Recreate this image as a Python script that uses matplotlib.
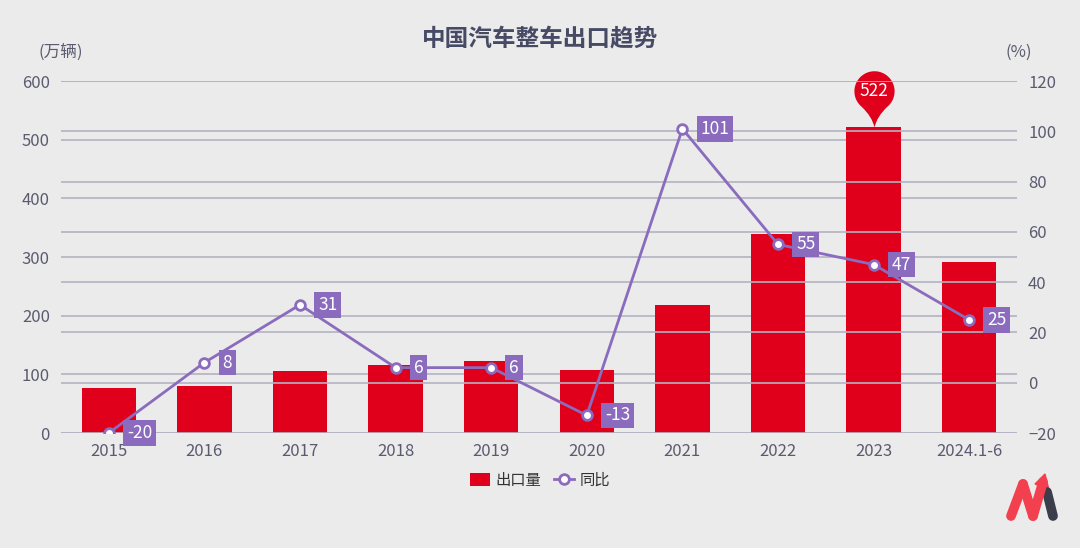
import matplotlib
matplotlib.use("Agg")
import matplotlib.pyplot as plt
import numpy as np
from matplotlib.path import Path
from matplotlib.lines import Line2D
from matplotlib.patches import Patch

plt.rcParams['font.family'] = ['Noto Sans CJK SC', 'DejaVu Sans']

years = ["2015", "2016", "2017", "2018", "2019", "2020", "2021", "2022", "2023", "2024.1-6"]
export_vol = [76, 80, 106, 116, 123, 107, 218, 339, 522, 292]
yoy = [-20, 8, 31, 6, 6, -13, 101, 55, 47, 25]

bg = '#ebebeb'
red = '#e0001b'
purple = '#8a6bbd'
grid_c = '#b3b3c3'
tick_c = '#5b5b70'

fig = plt.figure(figsize=(10.8, 5.48), dpi=100, facecolor=bg)
ax = fig.add_axes([61 / 1080, 1 - 433 / 548, 956 / 1080, 352 / 548])
ax.set_facecolor(bg)
x = np.arange(len(years))

ax.bar(x, export_vol, width=0.57, color=red, zorder=2)
ax.set_xlim(-0.5, len(years) - 0.5)
ax.set_ylim(0, 600)
ax.set_yticks(range(0, 601, 100))
ax.set_xticks(x)
ax.set_xticklabels(years)
ax.yaxis.grid(True, color=grid_c, linewidth=1.2, zorder=0)
ax.set_axisbelow(True)
for s in ax.spines.values():
    s.set_visible(False)
ax.tick_params(length=0, labelsize=12, labelcolor=tick_c, pad=8)
ax.tick_params(axis='x', pad=7)

ax2 = ax.twinx()
ax2.set_ylim(-20, 120)
ax2.set_yticks(range(-20, 121, 20))
ax2.yaxis.grid(True, color=grid_c, linewidth=1.2, zorder=0)
for s in ax2.spines.values():
    s.set_visible(False)
ax2.tick_params(length=0, labelsize=12, labelcolor=tick_c, pad=8)
ax2.plot(x, yoy, color=purple, linewidth=2, marker='o', markersize=7,
         markerfacecolor='white', markeredgecolor=purple, markeredgewidth=2, zorder=4)
for xi, v in zip(x, yoy):
    ax2.annotate(str(v), (xi, v), xytext=(13, 0), textcoords='offset points',
                 ha='left', va='center', color='white', fontsize=12.5,
                 bbox=dict(boxstyle='square,pad=0.22', fc=purple, ec='none'), zorder=5)

# pin above the biggest bar
c = 1.8
a0 = np.deg2rad(-50)
ang = np.linspace(a0, np.pi - a0, 60)
verts = [(0, 0), (0.12, 0.55), (np.cos(a0), c + np.sin(a0))]
codes = [Path.MOVETO, Path.CURVE3, Path.CURVE3]
for a in ang[1:]:
    verts.append((np.cos(a), c + np.sin(a)))
    codes.append(Path.LINETO)
verts += [(-0.12, 0.55), (0, 0), (0, 0)]
codes += [Path.CURVE3, Path.CURVE3, Path.CLOSEPOLY]
pin = Path(verts, codes)
imax = int(np.argmax(export_vol))
ax.plot(imax, export_vol[imax], marker=pin, markersize=81, color=red,
        markeredgewidth=0, zorder=6, clip_on=False)
ax.annotate(str(export_vol[imax]), (imax, export_vol[imax]), xytext=(0, 26),
            textcoords='offset points', ha='center', va='center',
            color='white', fontsize=12.5, zorder=7)

fig.text(0.5, 1 - 38 / 548, '中国汽车整车出口趋势', ha='center', va='center',
         fontsize=17, fontweight='bold', color='#464a64')
fig.text(61 / 1080, 1 - 52 / 548, '(万辆)', ha='center', va='center', fontsize=12, color=tick_c)
fig.text(1019 / 1080, 1 - 52 / 548, '(%)', ha='center', va='center', fontsize=12, color=tick_c)

handles = [Patch(facecolor=red, edgecolor='none'),
           Line2D([], [], color=purple, linewidth=2, marker='o', markersize=7,
                  markerfacecolor='white', markeredgecolor=purple, markeredgewidth=2)]
fig.legend(handles, ['出口量', '同比'], loc='center', bbox_to_anchor=(540 / 1080, 1 - 480 / 548),
           ncol=2, frameon=False, fontsize=11, handlelength=1.3, handleheight=0.9,
           columnspacing=0.8, handletextpad=0.4, labelcolor='#333333')

# logo
def fig_xy(px, py):
    return px / 1080, 1 - py / 548
for (x0, y0, x1, y1, col) in [(1047, 492, 1053, 516, '#3b3d4a'),
                               (1011, 516, 1023, 484, '#f2404f'),
                               (1023, 484, 1033, 516, '#f2404f'),
                               (1033, 516, 1043, 482, '#f2404f')]:
    p0 = fig_xy(x0, y0)
    p1 = fig_xy(x1, y1)
    fig.add_artist(Line2D([p0[0], p1[0]], [p0[1], p1[1]], color=col, linewidth=7,
                          solid_capstyle='round'))
fig.add_artist(plt.Polygon([fig_xy(1035, 484), fig_xy(1045, 474), fig_xy(1049, 490)],
                           closed=True, color='#f2404f'))

fig.savefig('out.png', dpi=100, facecolor=bg)
